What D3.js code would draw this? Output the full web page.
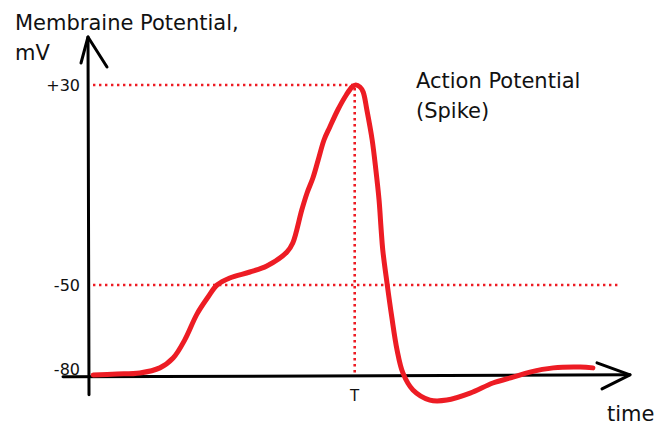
<!DOCTYPE html>
<html><head><meta charset="utf-8">
<script src="https://cdn.jsdelivr.net/npm/d3@7"></script>
<style>body{margin:0;background:#fff}svg{display:block}text{font-family:"DejaVu Sans",Verdana,sans-serif;fill:#111}</style>
</head><body><svg id="c" width="656" height="429"></svg>
<script>
// data
const time = [0.06,0.51,0.94,1.32,1.57,1.79,2.02,2.23,2.40,2.64,3.02,3.34,3.72,3.83,4.00,4.10,4.21,4.31,4.42,4.53,4.68,4.84,4.95,5.02,5.10,5.16,5.23,5.33,5.40,5.46,5.50,5.53,5.61,5.70,5.80,5.91,6.10,6.42,6.74,7.18,7.61,7.99,8.31,8.75,9.26,9.50];
const potential = [-82.1,-81.8,-81.4,-79.6,-76.1,-69.6,-60.4,-54.3,-50,-47.2,-44.8,-42.4,-36.8,-33.2,-20,-13.2,-7.2,0,8,13.2,20,26,29.2,30,29.2,27.2,20,8,-4,-16,-28,-36,-49.2,-61.4,-73.2,-81.4,-87.5,-91.1,-91.1,-88.6,-85,-82.9,-81.1,-79.6,-79.3,-79.6];
const yTickValues = [30, -50, -80];
const yTickLabels = ["+30", "-50", "-80"];
const peakTime = 5;
const peakLabel = "T";
const restLevel = -50;
const peakLevel = 30;
const thresholdEnd = 10.03;
const axisFloor = -82.8;
const timeMax = 10.2;

const svg = d3.select("#c");
const x = d3.scaleLinear().domain([0, timeMax]).range([90, 630]);
const y = d3.scaleLinear().domain([-80, -50, 30]).range([369, 285, 85]);
const red = "#ed1c24";
const x0 = x(0), yAxis = y(axisFloor);

// dotted guides
const dot = {stroke: red, "stroke-width": 2.6, "stroke-dasharray": "2.4 3.6", fill: "none"};
function guide(x1,y1,x2,y2){const l=svg.append("line").attr("x1",x1).attr("y1",y1).attr("x2",x2).attr("y2",y2);for(const k in dot)l.attr(k,dot[k]);}
guide(x0+3, y(peakLevel), x(peakTime), y(peakLevel));
guide(x(peakTime), y(peakLevel)+3, x(peakTime), yAxis-2);
guide(x0+3, y(restLevel), x(thresholdEnd), y(restLevel));

// axes
const ax = svg.append("g").attr("stroke","#000").attr("stroke-width",3).attr("fill","none").attr("stroke-linecap","round").attr("stroke-linejoin","round");
ax.append("path").attr("d", `M${x0-1},${yAxis+18} L${x0-2},37`);
ax.append("path").attr("d", `M${x0-9},63 L${x0-2},37 L${x0+17},67`);
ax.append("path").attr("d", `M${x0-27},${yAxis} L${x(timeMax)},${yAxis-2}`);
ax.append("path").attr("d", `M${x(timeMax)-33},${yAxis-14} L${x(timeMax)},${yAxis-2} L${x(timeMax)-28},${yAxis+12}`);

// curve
const line = d3.line().x((d,i)=>x(time[i])).y((d,i)=>y(potential[i])).curve(d3.curveCatmullRom.alpha(0.5));
svg.append("path").attr("d", line(time)).attr("fill","none").attr("stroke",red).attr("stroke-width",5).attr("stroke-linecap","round").attr("stroke-linejoin","round");

// tick labels
svg.selectAll(".yt").data(yTickValues).join("text").attr("class","yt")
  .attr("x",80).attr("y",d=>y(d)).attr("dy","0.35em").attr("text-anchor","end").attr("font-size",16)
  .text((d,i)=>yTickLabels[i]);
svg.append("text").attr("x",x(peakTime)).attr("y",401).attr("text-anchor","middle").attr("font-size",15).text(peakLabel);

// titles
svg.append("text").attr("x",15).attr("y",30).attr("font-size",21).text("Membraine Potential,");
svg.append("text").attr("x",15).attr("y",60).attr("font-size",21).text("mV");
svg.append("text").attr("x",607).attr("y",421).attr("font-size",21).text("time");
svg.append("text").attr("x",416).attr("y",88).attr("font-size",21).text("Action Potential");
svg.append("text").attr("x",416).attr("y",118).attr("font-size",21).text("(Spike)");
</script></body></html>
